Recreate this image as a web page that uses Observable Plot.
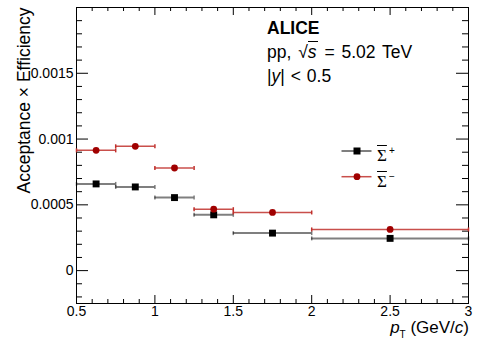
<!DOCTYPE html>
<html><head><meta charset="utf-8">
<script src="https://cdn.jsdelivr.net/npm/d3@7"></script>
<script src="https://cdn.jsdelivr.net/npm/@observablehq/plot@0.6"></script>
<style>
body{margin:0;background:#fff;font-family:"Liberation Sans",Arial,Helvetica,sans-serif;}
#wrap{position:relative;width:478px;height:345px;}
.t{position:absolute;white-space:nowrap;color:#000;line-height:16px;}
</style></head>
<body><div id="wrap"></div>
<script>
// bins (pT, GeV/c)
const binLo = [0.5, 0.75, 1.0, 1.25, 1.5, 2.0];
const binHi = [0.75, 1.0, 1.25, 1.5, 2.0, 3.0];
const binCenter = [0.625, 0.875, 1.125, 1.375, 1.75, 2.5];
// Acceptance x Efficiency
const sigmaPlus = [0.000659, 0.000636, 0.000555, 0.000424, 0.000285, 0.000245];
const sigmaMinus = [0.000914, 0.000945, 0.000780, 0.000467, 0.000442, 0.000313];
// ticks
const xMajor = [0.5, 1, 1.5, 2, 2.5, 3];
const xMinor = d3.range(5, 31).map(i => i / 10).filter(v => !xMajor.some(m => Math.abs(m - v) < 1e-9));
const yMajor = [0, 0.0005, 0.001, 0.0015];
const yMinor = d3.range(-2, 20).map(i => i / 10000).filter(v => !yMajor.some(m => Math.abs(m - v) < 1e-12));

const rows = (vals) => vals.map((v, i) => ({x: binCenter[i], lo: binLo[i], hi: binHi[i], y: v}));
const plus = rows(sigmaPlus);
const minus = rows(sigmaMinus);

const W = 478, H = 345, ML = 76, MR = 10, MT = 7, MB = 42;
const PW = W - ML - MR, PH = H - MT - MB;

const cap = {draw(ctx) { ctx.moveTo(0, -2); ctx.lineTo(0, 2); }};
const blackLine = "#000", blackOp = 0.5;
const redLine = "#c0302c", redMark = "#a00000";
const tk = {stroke: "#000", strokeWidth: 1};

const fmtY = d => d === 0 ? "0" : String(d);

const chart = Plot.plot({
  width: W, height: H,
  marginLeft: ML, marginRight: MR, marginTop: MT, marginBottom: MB,
  style: {fontFamily: '"Liberation Sans", Arial, sans-serif', background: "#fff"},
  x: {domain: [0.5, 3], axis: null},
  y: {domain: [-0.00025, 0.002], axis: null},
  marks: [
    // inward ticks
    Plot.tickY(yMajor, {y: d => d, insetRight: PW - 12, ...tk}),
    Plot.tickY(yMajor, {y: d => d, insetLeft: PW - 12, ...tk}),
    Plot.tickY(yMinor, {y: d => d, insetRight: PW - 6, ...tk}),
    Plot.tickY(yMinor, {y: d => d, insetLeft: PW - 6, ...tk}),
    Plot.tickX(xMajor, {x: d => d, insetTop: PH - 8, ...tk}),
    Plot.tickX(xMajor, {x: d => d, insetBottom: PH - 8, ...tk}),
    Plot.tickX(xMinor, {x: d => d, insetTop: PH - 4, ...tk}),
    Plot.tickX(xMinor, {x: d => d, insetBottom: PH - 4, ...tk}),
    Plot.frame({stroke: "#000", strokeWidth: 1}),
    // tick labels
    Plot.text(yMajor, {y: d => d, frameAnchor: "left", textAnchor: "end", dx: -3, fontSize: 14, text: fmtY, fill: "#000"}),
    Plot.text(xMajor, {x: d => d, frameAnchor: "bottom", lineAnchor: "top", dy: 3, fontSize: 14, text: d => String(d), fill: "#000"}),
    // error bars
    Plot.ruleY(plus, {y: "y", x1: "lo", x2: "hi", stroke: blackLine, strokeOpacity: blackOp, strokeWidth: 2}),
    Plot.dot(plus, {x: "lo", y: "y", symbol: cap, r: 2, stroke: blackLine, strokeOpacity: blackOp, fill: "none"}),
    Plot.dot(plus, {x: "hi", y: "y", symbol: cap, r: 2, stroke: blackLine, strokeOpacity: blackOp, fill: "none"}),
    Plot.ruleY(minus, {y: "y", x1: "lo", x2: "hi", stroke: redLine, strokeOpacity: 0.85, strokeWidth: 1.5}),
    Plot.dot(minus, {x: "lo", y: "y", symbol: cap, r: 2, stroke: redLine, fill: "none"}),
    Plot.dot(minus, {x: "hi", y: "y", symbol: cap, r: 2, stroke: redLine, fill: "none"}),
    // markers
    Plot.dot(plus, {x: "x", y: "y", symbol: "square", r: 3.9, fill: "#000", stroke: "none"}),
    Plot.dot(minus, {x: "x", y: "y", symbol: "circle", r: 3.4, fill: redMark, stroke: "none"}),
    // y title
    Plot.text(["Acceptance \u00d7 Efficiency"], {frameAnchor: "top-left", rotate: -90, textAnchor: "end",
      dx: -59, fontSize: 17.5, fill: "#000"})
  ]
});
const wrap = document.getElementById("wrap");
wrap.appendChild(chart);

function addText(html, style) {
  const d = document.createElement("div");
  d.className = "t";
  d.innerHTML = html;
  Object.assign(d.style, style);
  wrap.appendChild(d);
}
addText("ALICE", {left: "267px", top: "19.5px", fontSize: "17.5px", fontWeight: "bold"});
addText('pp, \u221a<span style="border-top:1px solid #000;font-style:italic;padding-right:1px">s</span> = 5.02 TeV', {left: "267px", top: "43.5px", fontSize: "17.5px", wordSpacing: "2px"});
addText('|<i>y</i>| &lt; 0.5', {left: "267px", top: "67.5px", fontSize: "17.5px", wordSpacing: "1px"});
addText('<i>p</i><sub style="font-size:10px;vertical-align:-5px">T</sub> (GeV/<i>c</i>)', {right: "9px", top: "320px", fontSize: "17px"});

// legend
const leg = document.createElementNS("http://www.w3.org/2000/svg", "svg");
leg.setAttribute("width", "40"); leg.setAttribute("height", "40");
leg.style.position = "absolute"; leg.style.left = "339px"; leg.style.top = "142px";
leg.innerHTML = `
<line x1="2.5" x2="32.5" y1="9" y2="9" stroke="#000" stroke-opacity="0.5" stroke-width="2"/>
<rect x="14.5" y="5.5" width="7" height="7" fill="#000"/>
<line x1="2.5" x2="32.5" y1="34.7" y2="34.7" stroke="${redLine}" stroke-opacity="0.85" stroke-width="1.5"/>
<circle cx="18" cy="34.7" r="3.4" fill="${redMark}"/>`;
wrap.appendChild(leg);
const sig = (s) => '<span style="font-family:\'Liberation Serif\',serif;text-decoration:overline;font-size:17px">\u03a3</span><sup style="font-size:10px;vertical-align:7px;margin-left:2px">' + s + '</sup>';
addText(sig("+"), {left: "377px", top: "143px", fontSize: "16px"});
addText(sig("\u2212"), {left: "377px", top: "169px", fontSize: "16px"});
</script></body></html>
